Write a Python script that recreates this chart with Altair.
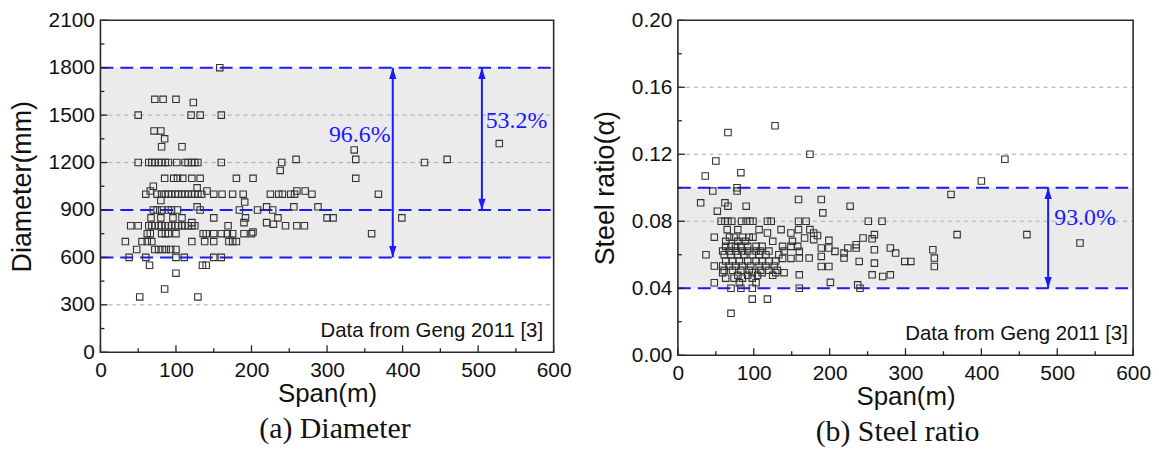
import altair as alt
import pandas as pd

# ---------------- (a) Diameter data : span (m), diameter (mm) ----------------
dia_span = [158,
            72, 83, 100,
            123,
            50, 120, 132, 160,
            71, 80,
            85,
            81, 108,
            336,
            528,
            259, 338, 459,
            50, 64, 68, 72, 77, 81, 86, 90, 101, 112, 116, 121, 125, 129, 160, 240, 429,
            238,
            85, 97, 102, 109, 121, 132, 180, 202, 338,
            70,
            128,
            66, 141, 260, 271,
            60, 75, 81, 86, 90, 94, 99, 103, 108, 112, 116, 121, 125, 129, 134, 150, 161, 175, 189, 225, 236, 241, 252, 257, 280, 368,
            80,
            191,
            128, 220, 256, 288,
            70, 75, 81, 90, 94, 102, 132, 184, 208, 228,
            67, 80, 96, 108, 150, 192, 235, 300, 308, 399,
            121, 190, 220,
            229,
            40, 50, 64, 68, 72, 77, 81, 86, 90, 94, 99, 103, 108, 112, 116, 121, 125, 169, 245, 260, 270,
            62, 66, 81, 86, 90, 100, 136, 140, 150, 160, 168, 175, 190, 200, 359, 202,
            33, 55, 62, 68, 121, 138, 150, 170, 175, 180,
            48, 72, 77, 82, 87, 93, 100,
            38, 60, 100, 111, 150, 160,
            65, 135, 140,
            100,
            85,
            52, 129]
dia_mm = [1800,
          1600, 1600, 1600,
          1580,
          1500, 1500, 1500, 1500,
          1400, 1400,
          1350,
          1300, 1300,
          1280,
          1320,
          1220, 1220, 1220,
          1200, 1200, 1200, 1200, 1200, 1200, 1200, 1200, 1200, 1200, 1200, 1200, 1200, 1200, 1200, 1200, 1200,
          1150,
          1100, 1100, 1100, 1100, 1100, 1100, 1100, 1100, 1100,
          1050,
          1040,
          1020, 1020, 1020, 1020,
          1000, 1000, 1000, 1000, 1000, 1000, 1000, 1000, 1000, 1000, 1000, 1000, 1000, 1000, 1000, 1000, 1000, 1000, 1000, 1000, 1000, 1000, 1000, 1000, 1000, 1000,
          960,
          950,
          920, 920, 920, 920,
          900, 900, 900, 900, 900, 900, 900, 900, 900, 900,
          850, 850, 850, 850, 850, 850, 850, 850, 850, 850,
          820, 820, 820,
          810,
          800, 800, 800, 800, 800, 800, 800, 800, 800, 800, 800, 800, 800, 800, 800, 800, 800, 800, 800, 800, 800,
          750, 750, 750, 750, 750, 750, 750, 750, 750, 750, 750, 750, 750, 750, 750, 760,
          700, 700, 700, 700, 700, 700, 700, 700, 700, 700,
          650, 650, 650, 650, 650, 650, 650,
          600, 600, 600, 600, 600, 600,
          550, 550, 550,
          500,
          400,
          350, 350]

# ---------------- (b) Steel ratio data : span (m), steel ratio ----------------
sr_span = [66, 128, 174, 50, 36, 83, 46, 78, 78, 431, 400, 360, 30, 62, 66, 52, 90, 159, 189, 191, 227,
           57, 62, 66, 71, 84, 90, 95, 99, 118, 123, 159, 169, 251, 269,
           159, 174, 179, 184, 167, 179, 199, 244, 256, 259, 368, 460, 530, 189, 199, 207, 219, 219, 224,
           235, 235, 259, 280, 287, 239, 259, 189, 189, 199, 201, 237, 240, 256, 270, 280, 299, 307, 336,
           338, 338, 158, 160, 160, 173, 160, 160,
           98, 118, 70,
           65, 79, 107, 136,
           118, 149,
           48, 68, 74, 85, 94, 99,
           63, 79, 89, 125, 151,
           63, 70, 76, 83, 92, 103, 111, 138, 149,
           59, 68, 76, 85, 92, 103, 109, 120, 140,
           37, 61, 70, 79, 87, 98, 107, 116, 133,
           138, 149,
           63, 72, 81, 92, 103, 111, 120, 129,
           48, 59, 68, 76, 85, 96, 107, 116, 127,
           61, 72, 83, 94, 109, 120, 131,
           59, 98, 111, 129, 140,
           79, 92, 105, 125,
           63, 74, 85, 98,
           48, 81, 103,
           70, 83, 98]
sr_val = [0.133, 0.137, 0.120, 0.116, 0.107, 0.109, 0.098, 0.100, 0.098, 0.117, 0.104, 0.096, 0.091, 0.091, 0.089, 0.086, 0.089, 0.093, 0.093, 0.085, 0.089,
          0.080, 0.080, 0.080, 0.080, 0.080, 0.080, 0.080, 0.080, 0.080, 0.080, 0.080, 0.080, 0.080, 0.080,
          0.075, 0.075, 0.073, 0.0715, 0.070, 0.069, 0.0686, 0.070, 0.0695, 0.072, 0.072, 0.072, 0.067, 0.064, 0.064, 0.062, 0.061, 0.058, 0.064,
          0.066, 0.064, 0.063, 0.064, 0.061, 0.056, 0.055, 0.059, 0.053, 0.053, 0.0435, 0.042, 0.040, 0.048, 0.047, 0.048, 0.056, 0.056, 0.063,
          0.058, 0.053, 0.065, 0.062, 0.058, 0.058, 0.048, 0.040,
          0.0335, 0.0335, 0.025,
          0.075, 0.075, 0.075, 0.075,
          0.073, 0.073,
          0.0705, 0.0705, 0.0705, 0.0705, 0.0705, 0.0705,
          0.068, 0.068, 0.068, 0.068, 0.068,
          0.065, 0.065, 0.065, 0.065, 0.065, 0.065, 0.065, 0.065, 0.065,
          0.0622, 0.0622, 0.0622, 0.0622, 0.0622, 0.0622, 0.0622, 0.0622, 0.0622,
          0.060, 0.060, 0.060, 0.060, 0.060, 0.060, 0.060, 0.060, 0.060,
          0.0578, 0.0578,
          0.0562, 0.0562, 0.0562, 0.0562, 0.0562, 0.0562, 0.0562, 0.0562,
          0.0533, 0.0533, 0.0533, 0.0533, 0.0533, 0.0533, 0.0533, 0.0533, 0.0533,
          0.0507, 0.0507, 0.0507, 0.0507, 0.0507, 0.0507, 0.0507,
          0.0493, 0.0493, 0.0493, 0.0493, 0.0493,
          0.0477, 0.0477, 0.0477, 0.0477,
          0.046, 0.046, 0.046, 0.046,
          0.0433, 0.0433, 0.0433,
          0.040, 0.040, 0.040]

# axis ticks
x_ticks = [0, 100, 200, 300, 400, 500, 600]
x_minor = [50, 150, 250, 350, 450, 550]
dia_ticks = [0, 300, 600, 900, 1200, 1500, 1800, 2100]
dia_minor = [150, 450, 750, 1050, 1350, 1650, 1950]
sr_ticks = [0.0, 0.04, 0.08, 0.12, 0.16, 0.20]
sr_minor = [0.02, 0.06, 0.10, 0.14, 0.18]

# annotations
dia_band = [600, 1800]
dia_blue = [600, 900, 1800]
dia_arrows = {"x": [387, 505], "lo": [600, 900], "hi": [1800, 1800]}
dia_pct = {"x": [384, 510], "y": [1371, 1460], "t": ["96.6%", "53.2%"], "al": ["right", "left"]}
sr_band = [0.04, 0.10]
sr_blue = [0.04, 0.10]
sr_arrows = {"x": [488], "lo": [0.04], "hi": [0.10]}
sr_pct = {"x": [496], "y": [0.082], "t": ["93.0%"], "al": ["left"]}
note = "Data from Geng 2011 [3]"

BLUE = "#1a1aff"
SANS = "Liberation Sans"
SERIF = "Liberation Serif"


def panel(xs_, ys_, ymax, yticks, yminor, fmt, band, blue, arrows, pct, note_x, note_y,
          ytitle, caption, W, H, grid_vals, cap_dx):
    xsc = alt.Scale(domain=[0, 600], nice=False, zero=False)
    ysc = alt.Scale(domain=[0, ymax], nice=False, zero=False)
    xax = alt.Axis(
        values=x_ticks, title="Span(m)", ticks=False, domain=False, grid=False,
        labelFont=SANS, labelFontSize=21, labelColor="#111", labelPadding=7,
        titleFont=SANS, titleFontSize=26, titleFontWeight="normal", titleColor="#111",
        titlePadding=1, labelFlush=False)
    yax = alt.Axis(
        values=yticks, format=fmt, title=ytitle, ticks=False, domain=False, grid=False,
        labelFont=SANS, labelFontSize=21, labelColor="#111", labelPadding=6,
        titleFont=SANS, titleFontSize=27, titleFontWeight="normal", titleColor="#111",
        titlePadding=12, labelFlush=False)

    def X(f):
        return alt.X(f, scale=xsc, axis=xax)

    def Y(f):
        return alt.Y(f, scale=ysc, axis=yax)

    pts = pd.DataFrame({"x": xs_, "y": ys_})

    band_df = pd.DataFrame({"x": [0], "x2": [600], "y": [band[0]], "y2": [band[1]]})
    band_l = alt.Chart(band_df).mark_rect(color="#ebebeb").encode(
        x=X("x:Q"), x2="x2:Q", y=Y("y:Q"), y2="y2:Q")

    grid_l = alt.Chart(pd.DataFrame({"y": grid_vals})).mark_rule(
        color="#a8a8a8", strokeWidth=1, strokeDash=[4, 4]).encode(
        y=Y("y:Q"), x=alt.value(0), x2=alt.value(W))

    blue_l = alt.Chart(pd.DataFrame({"y": blue})).mark_rule(
        color=BLUE, strokeWidth=2, strokeDash=[13, 7]).encode(
        y=Y("y:Q"), x=alt.value(0), x2=alt.value(W))

    pts_l = alt.Chart(pts).mark_point(
        shape="square", filled=False, size=42, color="#333333", strokeWidth=1.1, opacity=1).encode(
        x=X("x:Q"), y=Y("y:Q"))

    arr_df = pd.DataFrame(arrows)
    arr_line = alt.Chart(arr_df).mark_rule(color=BLUE, strokeWidth=2).encode(
        x=X("x:Q"), y=Y("lo:Q"), y2="hi:Q")
    arr_up = alt.Chart(arr_df).mark_point(
        shape="M0,0 L-0.32,1 L0.32,1 Z", filled=True, size=520, color=BLUE, opacity=1).encode(
        x=X("x:Q"), y=Y("hi:Q"))
    arr_dn = alt.Chart(arr_df).mark_point(
        shape="M0,0 L-0.32,-1 L0.32,-1 Z", filled=True, size=520, color=BLUE, opacity=1).encode(
        x=X("x:Q"), y=Y("lo:Q"))

    pct_df = pd.DataFrame(pct)
    pct_layers = []
    for i in range(len(pct_df)):
        pct_layers.append(
            alt.Chart(pct_df.iloc[[i]]).mark_text(
                font=SERIF, fontSize=24, color=BLUE, align=pct["al"][i], baseline="middle").encode(
                x=X("x:Q"), y=Y("y:Q"), text="t:N"))

    note_l = alt.Chart(pd.DataFrame({"x": [note_x], "y": [note_y], "t": [note]})).mark_text(
        font=SANS, fontSize=20.5, color="#111", align="right", baseline="alphabetic").encode(
        x=X("x:Q"), y=Y("y:Q"), text="t:N")

    tick_style = dict(color="#222", strokeWidth=1.3)
    xt_l = alt.Chart(pd.DataFrame({"x": x_ticks})).mark_rule(**tick_style).encode(
        x=X("x:Q"), y=alt.value(H), y2=alt.value(H - 7))
    xm_l = alt.Chart(pd.DataFrame({"x": x_minor})).mark_rule(**tick_style).encode(
        x=X("x:Q"), y=alt.value(H), y2=alt.value(H - 4))
    yt_l = alt.Chart(pd.DataFrame({"y": yticks})).mark_rule(**tick_style).encode(
        y=Y("y:Q"), x=alt.value(0), x2=alt.value(7))
    ym_l = alt.Chart(pd.DataFrame({"y": yminor})).mark_rule(**tick_style).encode(
        y=Y("y:Q"), x=alt.value(0), x2=alt.value(4))

    frame_l = alt.Chart(pd.DataFrame({"x": [0], "x2": [600], "y": [0], "y2": [ymax]})).mark_rect(
        fillOpacity=0, stroke="#2a2a2a", strokeWidth=1.6).encode(
        x=X("x:Q"), x2="x2:Q", y=Y("y:Q"), y2="y2:Q")

    layers = [band_l, grid_l, blue_l, pts_l, arr_line, arr_up, arr_dn] + pct_layers + \
             [note_l, xt_l, xm_l, yt_l, ym_l, frame_l]
    return alt.layer(*layers).properties(
        width=W, height=H,
        title=alt.TitleParams(caption, orient="bottom", font=SERIF, fontSize=30,
                              fontWeight="normal", color="#111", offset=7, anchor="middle",
                              dx=cap_dx))


left = panel(dia_span, dia_mm, 2100, dia_ticks, dia_minor, "d", dia_band, dia_blue,
             dia_arrows, dia_pct, 586, 95, "Diameter(mm)", "(a) Diameter", 456, 334,
             [300, 1200, 1500], 8)
right = panel(sr_span, sr_val, 0.20, sr_ticks, sr_minor, ".2f", sr_band, sr_blue,
              sr_arrows, sr_pct, 593, 0.009, "Steel ratio(α)", "(b) Steel ratio", 458, 337,
              [0.08, 0.12, 0.16], -8)

chart = alt.hconcat(left, right, spacing=20).properties(
    padding={"left": 0, "top": 0, "right": 0, "bottom": 0},
    background="white"
).configure_view(strokeWidth=0)

chart.save("out.html", embed_options={"renderer": "svg", "actions": False})
